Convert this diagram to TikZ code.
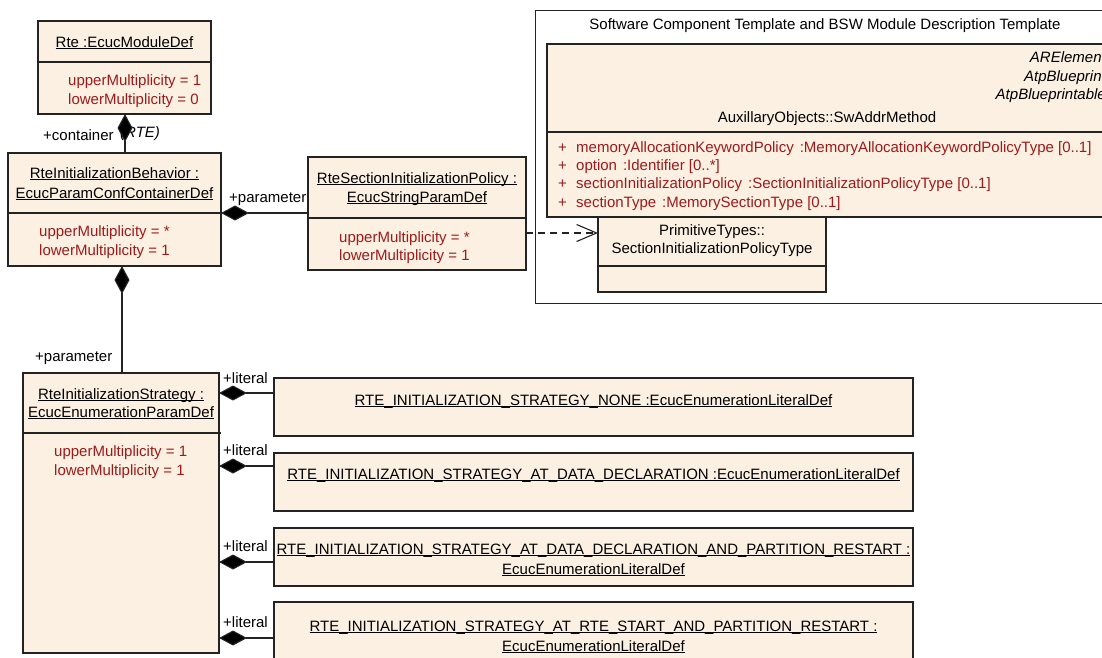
\documentclass[tikz,border=0pt]{standalone}
\usepackage{fontspec}
\setmainfont{Liberation Sans}
\usetikzlibrary{arrows.meta}
\definecolor{boxfill}{RGB}{251,240,226}
\definecolor{attr}{RGB}{158,26,26}
\definecolor{edge}{RGB}{35,35,35}
\newcommand\myul[1]{\setbox0\hbox{#1}\rlap{\rule[-2.2pt]{\wd0}{0.9pt}}\box0}
\tikzset{
  umlbox/.style={draw=edge, fill=boxfill, line width=1.1pt, inner sep=0pt, outer sep=0pt, anchor=north west},
  divider/.style={draw=edge, line width=1.1pt},
  txt/.style={inner sep=0pt, anchor=base, font=\fontsize{15}{18}\selectfont},
  attrtxt/.style={txt, anchor=base west, text=attr},
  lbl/.style={txt, anchor=base west},
  conn/.style={draw=edge, line width=1.1pt},
  comp/.style={conn, -{Diamond[length=28pt, width=15pt, fill=black]}},
  dep/.style={conn, dash pattern=on 7pt off 5pt, -{Straight Barb[length=20pt, width=17pt]}},
}
\begin{document}
\begin{tikzpicture}[x=1pt, y=-1pt]
\useasboundingbox (0,0) rectangle (1102,657);
\clip (0,0) rectangle (1102,657);
\fill[white] (0,0) rectangle (1102,657);

% ---------- package frame ----------
\node[draw=edge, line width=0.9pt, fill=white, inner sep=0pt, outer sep=0pt, anchor=north west,
      minimum width=580pt, minimum height=293pt] (pkg) at (535,10) {};
\node[txt] (pkgt) at (825,29) {Software Component Template and BSW Module Description Template};

% ---------- SectionInitializationPolicyType ----------
\node[umlbox, minimum width=228pt, minimum height=102pt] (sipt) at (598,190) {};
\draw[divider] (598,266) -- (826,266);
\node[txt] (sipt1) at (712,235) {PrimitiveTypes::};
\node[txt] (sipt2) at (712,253) {SectionInitializationPolicyType};

% ---------- SwAddrMethod ----------
\node[umlbox, minimum width=561pt, minimum height=173pt] (swam) at (547,44) {};
\draw[divider] (547,132) -- (1108,132);
\node[txt, anchor=base east, font=\fontsize{15}{18}\selectfont\itshape] (sw1) at (1106,62) {ARElement};
\node[txt, anchor=base east, font=\fontsize{15}{18}\selectfont\itshape] (sw2) at (1106,81) {AtpBlueprint};
\node[txt, anchor=base east, font=\fontsize{15}{18}\selectfont\itshape] (sw3) at (1106,99) {AtpBlueprintable};
\node[txt] (sw4) at (827,122) {AuxillaryObjects::SwAddrMethod};
\node[attrtxt] (swp1) at (558,152) {+};
\node[attrtxt] (swp2) at (558,170) {+};
\node[attrtxt] (swp3) at (558,188) {+};
\node[attrtxt] (swp4) at (558,207) {+};
\node[attrtxt] (swa1) at (576,152) {memoryAllocationKeywordPolicy\hspace{6pt}:MemoryAllocationKeywordPolicyType [0..1]};
\node[attrtxt] (swa2) at (576,170) {option\hspace{6pt}:Identifier [0..*]};
\node[attrtxt] (swa3) at (576,188) {sectionInitializationPolicy\hspace{6pt}:SectionInitializationPolicyType [0..1]};
\node[attrtxt] (swa4) at (576,207) {sectionType\hspace{6pt}:MemorySectionType [0..1]};

% ---------- Rte ----------
\node[umlbox, minimum width=173pt, minimum height=93pt] (rte) at (38,21) {};
\draw[divider] (38,62) -- (212,62);
\node[txt] (rtet) at (124.5,47) {\myul{Rte :EcucModuleDef}};
\node[attrtxt] (rtea1) at (68,85) {upperMultiplicity = 1};
\node[attrtxt] (rtea2) at (68,104) {lowerMultiplicity = 0};

% ---------- RteInitializationBehavior ----------
\node[umlbox, minimum width=213pt, minimum height=113pt] (rib) at (8,153) {};
\draw[divider] (8,213) -- (221,213);
\node[txt] (ribt1) at (114.5,178) {\myul{RteInitializationBehavior :}};
\node[txt] (ribt2) at (114.5,198) {\myul{EcucParamConfContainerDef}};
\node[attrtxt] (riba1) at (39,236) {upperMultiplicity = *};
\node[attrtxt] (riba2) at (39,255) {lowerMultiplicity = 1};

% ---------- RteSectionInitializationPolicy ----------
\node[umlbox, minimum width=218pt, minimum height=113pt] (rsip) at (308,157) {};
\draw[divider] (308,218) -- (527,218);
\node[txt] (rsipt1) at (417,183) {\myul{RteSectionInitializationPolicy :}};
\node[txt] (rsipt2) at (417,202) {\myul{EcucStringParamDef}};
\node[attrtxt] (rsipa1) at (339,242) {upperMultiplicity = *};
\node[attrtxt] (rsipa2) at (339,260) {lowerMultiplicity = 1};

% ---------- RteInitializationStrategy ----------
\node[umlbox, minimum width=196pt, minimum height=280pt] (ris) at (23,373) {};
\draw[divider] (23,433) -- (221,433);
\node[txt] (rist1) at (121,399) {\myul{RteInitializationStrategy :}};
\node[txt] (rist2) at (121,417) {\myul{EcucEnumerationParamDef}};
\node[attrtxt] (risa1) at (54,456) {upperMultiplicity = 1};
\node[attrtxt] (risa2) at (54,475) {lowerMultiplicity = 1};

% ---------- literals ----------
\node[umlbox, minimum width=639pt, minimum height=58pt] (lit1) at (274,378) {};
\node[txt] (lit1t) at (593.5,405) {\myul{RTE\_INITIALIZATION\_STRATEGY\_NONE :EcucEnumerationLiteralDef}};
\node[umlbox, minimum width=639pt, minimum height=58pt] (lit2) at (274,453) {};
\node[txt] (lit2t) at (593.5,479) {\myul{RTE\_INITIALIZATION\_STRATEGY\_AT\_DATA\_DECLARATION :EcucEnumerationLiteralDef}};
\node[umlbox, minimum width=639pt, minimum height=58pt] (lit3) at (274,528) {};
\node[txt] (lit3t1) at (593.5,554) {\myul{RTE\_INITIALIZATION\_STRATEGY\_AT\_DATA\_DECLARATION\_AND\_PARTITION\_RESTART :}};
\node[txt] (lit3t2) at (593.5,574) {\myul{EcucEnumerationLiteralDef}};
\node[umlbox, minimum width=639pt, minimum height=70pt] (lit4) at (274,602) {};
\node[txt] (lit4t1) at (593.5,631) {\myul{RTE\_INITIALIZATION\_STRATEGY\_AT\_RTE\_START\_AND\_PARTITION\_RESTART :}};
\node[txt] (lit4t2) at (593.5,651) {\myul{EcucEnumerationLiteralDef}};

% ---------- helper coordinates ----------
\coordinate (xc) at (125,0);
\coordinate (xp) at (122,0);
\coordinate (yp) at (0,213);
\coordinate (yd) at (0,233);
\coordinate (yl1) at (0,393);
\coordinate (yl2) at (0,466);
\coordinate (yl3) at (0,562);
\coordinate (yl4) at (0,638);

% ---------- connector labels ----------
\node[lbl, font=\fontsize{15}{18}\selectfont\itshape] (rtel) at (120,137) {(RTE)};
\node[lbl] (contl) at (43,140) {+container};
\node[lbl] (par1) at (229,202) {+parameter};
\node[lbl] (par2) at (35,361) {+parameter};
\node[lbl] (litl1) at (223,383) {+literal};
\node[lbl] (litl2) at (223,455) {+literal};
\node[lbl] (litl3) at (223,551) {+literal};
\node[lbl] (litl4) at (223,627) {+literal};

% ---------- connectors ----------
\draw[comp] (rib.north -| xc) -- (rte.south -| xc);
\draw[comp] (rsip.west |- yp) -- (rib.east |- yp);
\draw[comp] (ris.north -| xp) -- (rib.south -| xp);
\draw[comp] (lit1.west |- yl1) -- (ris.east |- yl1);
\draw[comp] (lit2.west |- yl2) -- (ris.east |- yl2);
\draw[comp] (lit3.west |- yl3) -- (ris.east |- yl3);
\draw[comp] (lit4.west |- yl4) -- (ris.east |- yl4);
\draw[dep] (rsip.east |- yd) -- (sipt.west |- yd);
\end{tikzpicture}
\end{document}
